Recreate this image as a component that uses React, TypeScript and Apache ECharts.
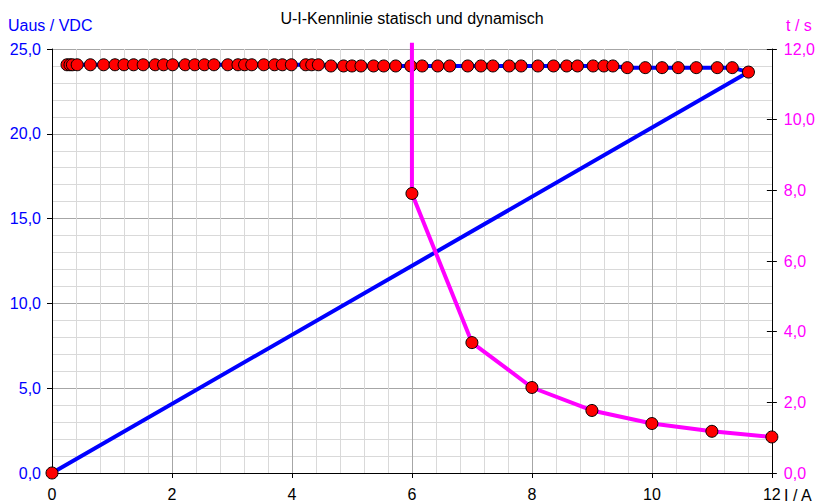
import React, { useEffect, useRef } from 'react';
import * as echarts from 'echarts';

// Static U-I characteristic (left axis, Uaus / VDC vs I / A)
const staticI = [0.25, 0.30, 0.34, 0.42, 0.64, 0.86, 1.05, 1.20, 1.36, 1.52, 1.72, 1.86, 2.01, 2.22, 2.38, 2.54, 2.70, 2.93, 3.10, 3.21, 3.33, 3.53, 3.71, 3.84, 3.99, 4.23, 4.33, 4.44, 4.65, 4.86, 5.00, 5.15, 5.36, 5.53, 5.73, 5.98, 6.17, 6.43, 6.63, 6.93, 7.15, 7.35, 7.62, 7.82, 8.10, 8.36, 8.58, 8.76, 9.02, 9.20, 9.35, 9.59, 9.89, 10.17, 10.44, 10.74, 11.09, 11.34, 11.61, 0];
const staticU = [24.07, 24.07, 24.07, 24.07, 24.07, 24.07, 24.07, 24.07, 24.07, 24.07, 24.07, 24.07, 24.07, 24.07, 24.07, 24.07, 24.07, 24.07, 24.07, 24.07, 24.07, 24.07, 24.07, 24.07, 24.07, 24.07, 24.07, 24.07, 24.0, 24.0, 24.0, 24.0, 24.0, 24.0, 24.0, 24.0, 24.0, 24.0, 24.0, 24.0, 24.0, 24.0, 24.0, 24.0, 24.0, 24.0, 24.0, 24.0, 24.0, 24.0, 24.0, 23.9, 23.9, 23.9, 23.9, 23.9, 23.9, 23.9, 23.64, 0];

// Dynamic characteristic (right axis, t / s vs I / A)
const dynI = [6, 6, 7, 8, 9, 10, 11, 12, 12.13];
const dynT = [12.18, 7.91, 3.69, 2.42, 1.77, 1.40, 1.18, 1.02, 0.98];
const dynMarker = [false, true, true, true, true, true, true, true, false];

const title = 'U-I-Kennlinie statisch und dynamisch';
const leftName = 'Uaus / VDC';
const rightName = 't / s';
const xName = 'I / A';

const FONT = '"Liberation Sans", Arial, sans-serif';

export default function App() {
  const ref = useRef<HTMLDivElement>(null);
  useEffect(() => {
    document.body.style.margin = '0';
    const chart = echarts.init(ref.current!, null, { renderer: 'svg' });
    const fmt = (v: number) => v.toFixed(1).replace('.', ',');
    const marker = {
      symbol: 'circle',
      symbolSize: 12,
      itemStyle: { color: '#ff0000', borderColor: '#000000', borderWidth: 1 },
    };
    chart.setOption({
      animation: false,
      textStyle: { fontFamily: FONT },
      grid: { left: 52, right: 44, top: 49, bottom: 29, containLabel: false },
      xAxis: {
        type: 'value',
        min: 0,
        max: 12,
        interval: 2,
        axisLine: { show: true, lineStyle: { color: '#000', width: 1 } },
        axisTick: { show: true, length: 5, lineStyle: { color: '#000' } },
        axisLabel: { color: '#000', fontSize: 16, margin: 13, fontFamily: FONT },
        splitLine: { show: true, lineStyle: { color: '#a6a6a6', width: 1 } },
        minorTick: { show: false, splitNumber: 5 },
        minorSplitLine: { show: true, lineStyle: { color: '#d9d9d9', width: 1 } },
      },
      yAxis: [
        {
          type: 'value',
          min: 0,
          max: 25,
          interval: 5,
          position: 'left',
          axisLine: { show: true, lineStyle: { color: '#000', width: 1 } },
          axisTick: { show: true, length: 5, lineStyle: { color: '#000' } },
          axisLabel: { color: '#0000ff', fontSize: 16, margin: 11, fontFamily: FONT, formatter: fmt },
          splitLine: { show: true, lineStyle: { color: '#a6a6a6', width: 1 } },
          minorTick: { show: false, splitNumber: 5 },
          minorSplitLine: { show: true, lineStyle: { color: '#d9d9d9', width: 1 } },
        },
        {
          type: 'value',
          min: 0,
          max: 12,
          interval: 2,
          position: 'right',
          axisLine: { show: true, lineStyle: { color: '#000', width: 1 } },
          axisTick: { show: true, length: 5, lineStyle: { color: '#000' } },
          axisLabel: { color: '#ff00ff', fontSize: 16, margin: 12, fontFamily: FONT, formatter: fmt },
          splitLine: { show: false },
        },
        {
          type: 'value',
          min: 0,
          max: 12,
          interval: 2,
          position: 'right',
          axisLine: { show: false },
          axisTick: { show: true, inside: true, length: 5, lineStyle: { color: '#000' } },
          axisLabel: { show: false },
          splitLine: { show: false },
        },
      ],
      series: [
        {
          type: 'line',
          yAxisIndex: 0,
          data: staticI.map((x, i) => [x, staticU[i]]),
          lineStyle: { color: '#0000ff', width: 4 },
          ...marker,
          showAllSymbol: true,
          clip: false,
          z: 2,
        },
        {
          type: 'line',
          yAxisIndex: 1,
          data: dynI.map((x, i) =>
            dynMarker[i] ? { value: [x, dynT[i]] } : { value: [x, dynT[i]], symbol: 'none' }
          ),
          lineStyle: { color: '#ff00ff', width: 4 },
          ...marker,
          showAllSymbol: true,
          clip: false,
          z: 3,
        },
      ],
      graphic: [
        {
          type: 'text',
          x: 412,
          y: 18,
          style: { text: title, fontSize: 16, fill: '#000', fontFamily: FONT, align: 'center', verticalAlign: 'middle' },
        },
        {
          type: 'text',
          x: 8,
          y: 25,
          style: { text: leftName, fontSize: 16, fill: '#0000ff', fontFamily: FONT, align: 'left', verticalAlign: 'middle' },
        },
        {
          type: 'text',
          x: 786,
          y: 25,
          style: { text: rightName, fontSize: 16, fill: '#ff00ff', fontFamily: FONT, align: 'left', verticalAlign: 'middle' },
        },
        {
          type: 'text',
          x: 784,
          y: 495,
          style: { text: xName, fontSize: 16, fill: '#000', fontFamily: FONT, align: 'left', verticalAlign: 'middle' },
        },
      ],
    });
    return () => chart.dispose();
  }, []);
  return <div ref={ref} style={{ width: 818, height: 502 }} />;
}
